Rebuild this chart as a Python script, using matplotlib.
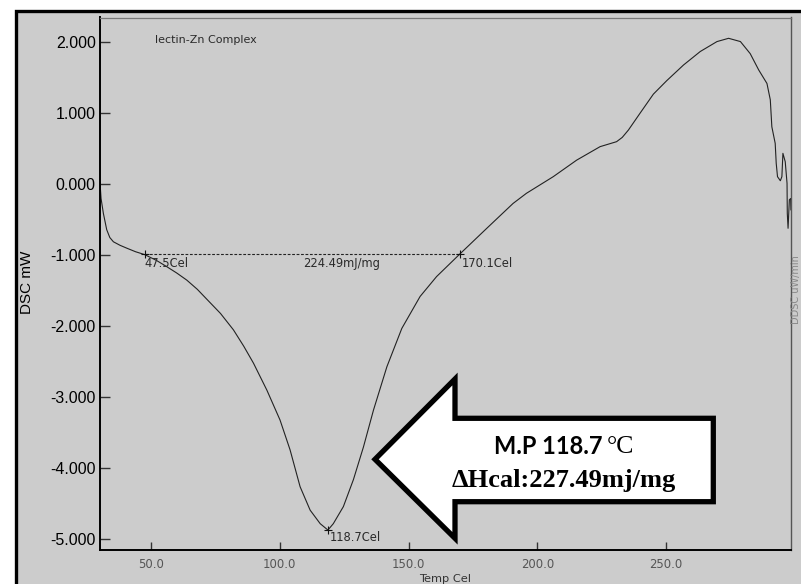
import matplotlib
matplotlib.use("Agg")
import matplotlib.pyplot as plt
from matplotlib.patches import Polygon, Rectangle

# ---- data ----
temp = [30.2, 30.6, 31.5, 32.8, 34.0, 35.4, 38.0, 40.6, 44.0, 47.5, 52.0, 56.1,
        60.0, 63.9, 68.0, 71.7, 77.0, 82.0, 86.0, 89.8, 95.0, 100.1, 104.0,
        107.9, 111.8, 115.7, 118.7, 120.8, 124.7, 128.6, 132.5, 136.4, 141.6,
        147.4, 154.5, 160.9, 170.0, 180.4, 190.6, 195.8, 206.2, 215.3, 224.4,
        230.8, 233.0, 235.4, 239.9, 245.1, 250.3, 256.8, 263.3, 269.8, 274.3,
        278.9, 282.7, 286.0, 289.2, 290.5, 291.1, 292.4, 292.8, 293.3, 294.4,
        295.0, 295.4, 296.3, 297.0, 297.1, 297.4, 297.9, 298.4, 298.5]
dsc = [0.02, -0.20, -0.41, -0.64, -0.75, -0.81, -0.86, -0.90, -0.95, -0.99,
       -1.07, -1.16, -1.25, -1.35, -1.48, -1.62, -1.82, -2.05, -2.28, -2.52,
       -2.90, -3.32, -3.74, -4.26, -4.59, -4.78, -4.87, -4.78, -4.54, -4.16,
       -3.70, -3.18, -2.57, -2.03, -1.58, -1.30, -0.98, -0.62, -0.27, -0.127,
       0.107, 0.34, 0.53, 0.60, 0.66, 0.764, 1.00, 1.27, 1.46, 1.68, 1.87,
       2.01, 2.056, 2.01, 1.84, 1.61, 1.42, 1.19, 0.81, 0.577, 0.295, 0.107,
       0.05, 0.107, 0.436, 0.318, 0.014, -0.409, -0.62, -0.22, -0.20, -0.36]

x_ticks = [50.0, 100.0, 150.0, 200.0, 250.0]
x_tick_labels = ["50.0", "100.0", "150.0", "200.0", "250.0"]
y_ticks = [2.0, 1.0, 0.0, -1.0, -2.0, -3.0, -4.0, -5.0]
y_tick_labels = ["2.000", "1.000", "0.000", "-1.000", "-2.000", "-3.000", "-4.000", "-5.000"]

onset_t, endset_t = 47.5, 170.1
baseline_y = -0.985
peak_t, peak_y = 118.7, -4.87
enthalpy_label = "224.49mJ/mg"
enthalpy_label_t = 124.1
title_text = "lectin-Zn Complex"
mp_text = "M.P 118.7"
mp_unit = "°C"
dh_text = "ΔHcal:227.49mj/mg"

BG = "#cccccc"
W, H = 801, 584

fig = plt.figure(figsize=(8.01, 5.84), dpi=100)
fig.patch.set_facecolor("white")

# gray panel with thick black frame (behind the axes)
frame = Rectangle((16 / W, -0.1), 1.2, (H - 11) / H + 0.1,
                  transform=fig.transFigure, facecolor=BG,
                  edgecolor="black", linewidth=2.4, zorder=-10)
fig.add_artist(frame)

ax = fig.add_axes([100 / W, 1 - 550 / H, 691 / W, 532.5 / H])
ax.set_zorder(1)
ax.set_facecolor(BG)
ax.set_xlim(30.19, 298.54)
ax.set_ylim(-5.151, 2.349)

ax.plot(temp, dsc, color="#222222", linewidth=0.8)

# baseline and markers
ax.plot([onset_t, endset_t], [baseline_y, baseline_y], color="#222222",
        linewidth=0.8, linestyle=(0, (2.5, 1.5)))
ax.plot([onset_t, endset_t, peak_t], [baseline_y, baseline_y, peak_y],
        linestyle="none", marker="+", markersize=6, color="#111111",
        markeredgewidth=0.8)

small = dict(fontsize=8.3, color="#2a2a2a", family="DejaVu Sans")
ax.annotate(f"{onset_t}Cel", (onset_t, baseline_y), xytext=(0, -2),
            textcoords="offset points", ha="left", va="top", **small)
ax.annotate(enthalpy_label, (enthalpy_label_t, baseline_y), xytext=(0, -2),
            textcoords="offset points", ha="center", va="top", **small)
ax.annotate(f"{endset_t}Cel", (endset_t, baseline_y), xytext=(1, -2),
            textcoords="offset points", ha="left", va="top", **small)
ax.annotate(f"{peak_t}Cel", (peak_t, peak_y), xytext=(1, -1),
            textcoords="offset points", ha="left", va="top", **small)


def px(x, y):
    return ((x - 100) / 691, (550 - y) / 532.5)


ax.text(px(155, 0)[0], px(0, 40)[1], title_text,
        transform=ax.transAxes, ha="left", va="center", fontsize=8,
        color="#2a2a2a", family="DejaVu Sans")

# spines
for s in ["left", "bottom"]:
    ax.spines[s].set_color("black")
    ax.spines[s].set_linewidth(1.4)
ax.spines["top"].set_color("#777777")
ax.spines["top"].set_linewidth(0.9)
ax.spines["right"].set_color("#555555")
ax.spines["right"].set_linewidth(1.0)

ax.set_xticks(x_ticks)
ax.set_xticklabels(x_tick_labels, fontsize=8.4, color="#555555", family="DejaVu Sans")
ax.set_yticks(y_ticks)
ax.set_yticklabels(y_tick_labels, fontsize=11.5, color="black", family="Liberation Sans")
ax.tick_params(axis="x", direction="in", length=6, width=1.0, color="#333333", pad=6)
ax.tick_params(axis="y", direction="in", length=7, width=1.0, color="#333333", pad=3)

ax.text(px(445, 0)[0], px(0, 579)[1], "Temp Cel", transform=ax.transAxes,
        ha="center", va="center", fontsize=8.2, color="#333333",
        family="DejaVu Sans", clip_on=False)
ax.text(px(27, 0)[0], px(0, 282)[1], "DSC mW", transform=ax.transAxes,
        ha="center", va="center", rotation=90, fontsize=11, color="black",
        family="Liberation Sans", clip_on=False)
fig.text(796 / W, 1 - 290 / H, "DDSC uW/min", rotation=90, ha="center",
         va="center", fontsize=7, color="#888888", family="DejaVu Sans")

# big arrow callout (axes fraction coordinates)
arrow_pts = [px(375, 459.3), px(455, 379), px(455, 418.3), px(713.3, 418.3),
             px(713.3, 501.7), px(455, 501.7), px(455, 538.3)]
ax.add_patch(Polygon(arrow_pts, closed=True, transform=ax.transAxes,
                     facecolor="white", edgecolor="black", linewidth=3.8,
                     joinstyle="miter", zorder=5, clip_on=False))

t1 = ax.text(px(494, 0)[0], px(0, 454)[1], mp_text, transform=ax.transAxes,
             ha="left", va="baseline", fontsize=17, fontweight="bold",
             family="Lato", color="black", zorder=6)
ax.annotate(mp_unit, xy=(1, 0), xycoords=t1, xytext=(3, 0),
            textcoords="offset points", ha="left", va="bottom",
            fontsize=18.5, fontweight="normal", family="Liberation Serif",
            color="black", zorder=6)
ax.text(px(564, 0)[0], px(0, 480)[1], dh_text, transform=ax.transAxes,
        ha="center", va="center", fontsize=19, fontweight="bold",
        family="Liberation Serif", color="black", zorder=6)

fig.savefig("out.png", dpi=100, facecolor=fig.get_facecolor())
